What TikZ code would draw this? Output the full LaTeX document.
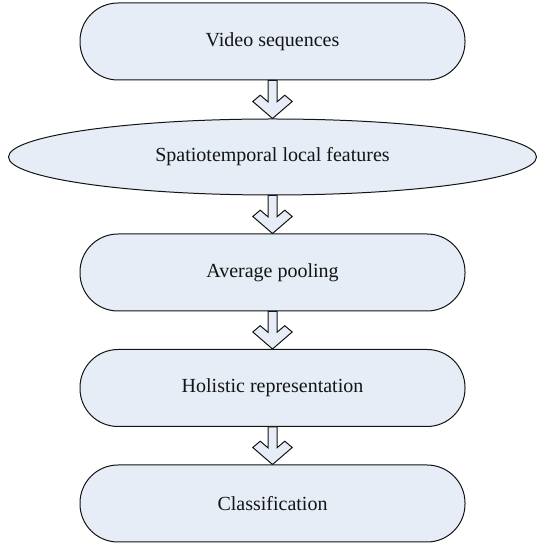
\documentclass[tikz,border=0pt]{standalone}
\usepackage{fontspec}
\setmainfont{Liberation Serif}
\usetikzlibrary{shapes.geometric,calc}
\definecolor{fillc}{RGB}{230,237,247}
\definecolor{linec}{RGB}{20,20,20}
\tikzset{
  stagebox/.style={draw=linec, fill=fillc, line width=1pt, rectangle, rounded corners=38pt,
    minimum width=385pt, minimum height=77pt, inner sep=0pt,
    font=\fontsize{20}{24}\selectfont, text=linec},
  stageell/.style={draw=linec, fill=fillc, line width=1pt, ellipse,
    minimum width=528pt, minimum height=76pt, inner sep=0pt,
    font=\fontsize{20}{24}\selectfont, text=linec},
  blockarr/.style={draw=linec, fill=fillc, line width=1pt, line join=miter,
    to path={let \p1=(\tikztostart), \p2=(\tikztotarget) in
      (\x2-4.5pt,\y1) -- (\x2-4.5pt,\y2+16.7pt) -- (\x2-12.3pt,\y2+23.3pt)
      -- (\x2-19.7pt,\y2+17pt) -- (\x2,\y2) -- (\x2+19.7pt,\y2+17pt)
      -- (\x2+12.3pt,\y2+23.3pt) -- (\x2+4.5pt,\y2+16.7pt) -- (\x2+4.5pt,\y1) -- cycle}}
}
\begin{document}
\begin{tikzpicture}[x=1pt,y=1pt]
\useasboundingbox (0,0) rectangle (536,546);
\node[stagebox] (v) at (272.5,504.5) {Video sequences};
\node[stageell] (s) at (272.5,389) {Spatiotemporal local features};
\node[stagebox] (a) at (272.5,273.5) {Average pooling};
\node[stagebox] (h) at (272.5,158) {Holistic representation};
\node[stagebox] (c) at (272.5,42.5) {Classification};
\draw[blockarr] (v.south) to (s.north);
\draw[blockarr] (s.south) to (a.north);
\draw[blockarr] (a.south) to (h.north);
\draw[blockarr] (h.south) to (c.north);
\end{tikzpicture}
\end{document}
